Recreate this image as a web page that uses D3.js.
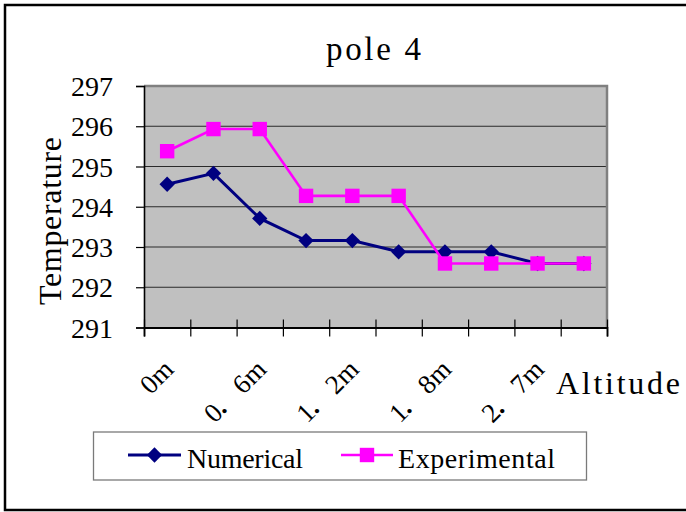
<!DOCTYPE html>
<html>
<head>
<meta charset="utf-8">
<script src="https://cdn.jsdelivr.net/npm/d3@7"></script>
<style>
  html, body { margin: 0; padding: 0; background: #ffffff; }
  svg { display: block; }
</style>
</head>
<body>
<svg id="chart" width="686" height="512"></svg>
<script>
// Temperature profile along pole 4, model vs measurement
const chartTitle = "pole 4";
const xAxisTitle = "Altitude";
const yAxisTitle = "Temperature";

// ten altitude stations; only every other one carries a label
const xLabels = ["0m", "", "0．6m", "", "1．2m", "", "1．8m", "", "2．7m", ""];
const yTicks = [291, 292, 293, 294, 295, 296, 297];

const numerical    = [294.56, 294.83, 293.71, 293.16, 293.16, 292.88, 292.88, 292.88, 292.59, 292.59];
const experimental = [295.38, 295.93, 295.93, 294.27, 294.27, 294.27, 292.59, 292.59, 292.59, 292.59];

const seriesNames  = ["Numerical", "Experimental"];
const seriesColors = ["#000080", "#ff00ff"];
const seriesShapes = ["diamond", "square"];

const FONT = "'Liberation Serif', serif";
const CJK_FONT = "'Noto Sans CJK JP', 'Noto Sans CJK SC', sans-serif";

const svg = d3.select("#chart");

// outer chart frame (open on the right edge)
svg.append("path")
  .attr("d", "M700,5 H5 V510 H700")
  .attr("fill", "none")
  .attr("stroke", "#000")
  .attr("stroke-width", 2.5);

const plot = { left: 144, right: 607, top: 86, bottom: 327.5 };

const x = d3.scaleBand()
  .domain(d3.range(xLabels.length))
  .range([plot.left, plot.right])
  .paddingInner(0).paddingOuter(0);
const xc = i => x(i) + x.bandwidth() / 2;

const y = d3.scaleLinear()
  .domain([d3.min(yTicks), d3.max(yTicks)])
  .range([plot.bottom, plot.top]);

// plot area background
svg.append("rect")
  .attr("x", plot.left).attr("y", plot.top)
  .attr("width", plot.right - plot.left)
  .attr("height", plot.bottom - plot.top)
  .attr("fill", "#c0c0c0");

// horizontal gridlines
svg.append("g")
  .selectAll("line")
  .data(yTicks.filter(t => t > d3.min(yTicks) && t < d3.max(yTicks)))
  .join("line")
  .attr("x1", plot.left).attr("x2", plot.right)
  .attr("y1", d => y(d)).attr("y2", d => y(d))
  .attr("stroke", "#2a2a2a").attr("stroke-width", 1.2);

// top and right edges of the plot area
svg.append("path")
  .attr("d", `M${plot.left},${y(d3.max(yTicks))} H${plot.right} V${plot.bottom}`)
  .attr("fill", "none")
  .attr("stroke", "#808080")
  .attr("stroke-width", 2.5);

// y axis
const yAxis = svg.append("g")
  .attr("transform", `translate(${plot.left},0)`)
  .call(d3.axisLeft(y).tickValues(yTicks).tickSize(8).tickPadding(23).tickFormat(d3.format("d")));
yAxis.attr("font-family", FONT).attr("font-size", 28);
yAxis.select(".domain").attr("stroke", "#000").attr("stroke-width", 1.6);
yAxis.selectAll(".tick line").attr("stroke", "#000").attr("stroke-width", 1.2);
yAxis.selectAll(".tick text")
  .attr("font-family", FONT)
  .attr("font-size", 28)
  .attr("fill", "#000")
  .attr("dy", "0.34em");

// x axis: tick marks sit on the category boundaries and cross the axis line
const xEdge = d3.scaleLinear().domain([0, xLabels.length]).range([plot.left, plot.right]);
const xAxis = svg.append("g")
  .attr("transform", `translate(0,${plot.bottom})`)
  .call(d3.axisBottom(xEdge).tickValues(d3.range(xLabels.length + 1)).tickSize(9).tickFormat(""));
xAxis.select(".domain").attr("stroke", "#000").attr("stroke-width", 1.8);
xAxis.selectAll(".tick line").attr("y1", -8).attr("stroke", "#000").attr("stroke-width", 1.2);

// rotated category labels; the full-width stop is set in the CJK face
// and nudged slightly toward the preceding digit
const isWide = ch => ch.charCodeAt(0) >= 0xff00;
svg.append("g")
  .selectAll("text")
  .data(xLabels.map((t, i) => ({ t, i })).filter(d => d.t))
  .join("text")
  .attr("transform", d => `translate(${xc(d.i) + 8},371) rotate(-45)`)
  .attr("text-anchor", "end")
  .attr("font-family", FONT)
  .attr("font-size", 27)
  .each(function (d) {
    const t = d3.select(this);
    let shift = 0;
    Array.from(d.t).forEach(ch => {
      const span = t.append("tspan").text(ch);
      if (isWide(ch)) {
        span.attr("font-family", CJK_FONT).attr("dx", -4);
        shift = 4;
      } else if (shift) {
        span.attr("dx", shift);
        shift = 0;
      }
    });
  });

// series lines and markers
const series = [numerical, experimental];
const line = d3.line().x((d, i) => xc(i)).y(d => y(d));

function marker(sel, shape, color) {
  if (shape === "diamond") {
    sel.append("path")
      .attr("d", d3.symbol(d3.symbolDiamond2, 150)())
      .attr("fill", color);
  } else {
    sel.append("rect")
      .attr("x", -7.2).attr("y", -7.2)
      .attr("width", 14.4).attr("height", 14.4)
      .attr("fill", color);
  }
}

series.forEach((vals, k) => {
  const g = svg.append("g");
  g.append("path")
    .datum(vals)
    .attr("d", line)
    .attr("fill", "none")
    .attr("stroke", seriesColors[k])
    .attr("stroke-width", k === 0 ? 3 : 2.6);
  g.selectAll("g.pt")
    .data(vals)
    .join("g")
    .attr("class", "pt")
    .attr("transform", (d, i) => `translate(${xc(i)},${y(d)})`)
    .each(function () { marker(d3.select(this), seriesShapes[k], seriesColors[k]); });
});

// titles
svg.append("text")
  .attr("x", 373.5).attr("y", 60)
  .attr("text-anchor", "middle")
  .attr("font-family", FONT)
  .attr("font-size", 33)
  .attr("textLength", 95).attr("lengthAdjust", "spacing")
  .text(chartTitle);

svg.append("text")
  .attr("x", 556).attr("y", 394)
  .attr("font-family", FONT)
  .attr("font-size", 32)
  .attr("textLength", 124).attr("lengthAdjust", "spacing")
  .text(xAxisTitle);

svg.append("text")
  .attr("transform", "translate(61,221) rotate(-90)")
  .attr("text-anchor", "middle")
  .attr("font-family", FONT)
  .attr("font-size", 32)
  .attr("textLength", 168).attr("lengthAdjust", "spacing")
  .text(yAxisTitle);

// legend
const legend = svg.append("g");
legend.append("rect")
  .attr("x", 93.5).attr("y", 432)
  .attr("width", 493).attr("height", 48)
  .attr("fill", "#fff")
  .attr("stroke", "#7a7a7a").attr("stroke-width", 1.3);

const legendItems = [
  { x0: 128, x1: 181, tx: 187, tw: 116 },
  { x0: 341, x1: 393, tx: 398, tw: 157 }
];
legendItems.forEach((it, k) => {
  const g = legend.append("g");
  g.append("line")
    .attr("x1", it.x0).attr("x2", it.x1)
    .attr("y1", 455).attr("y2", 455)
    .attr("stroke", seriesColors[k]).attr("stroke-width", k === 0 ? 3 : 2.6);
  const m = g.append("g").attr("transform", `translate(${(it.x0 + it.x1) / 2},455)`);
  marker(m, seriesShapes[k], seriesColors[k]);
  g.append("text")
    .attr("x", it.tx).attr("y", 468)
    .attr("font-family", FONT)
    .attr("font-size", 28)
    .attr("textLength", it.tw).attr("lengthAdjust", "spacing")
    .text(seriesNames[k]);
});
</script>
</body>
</html>
